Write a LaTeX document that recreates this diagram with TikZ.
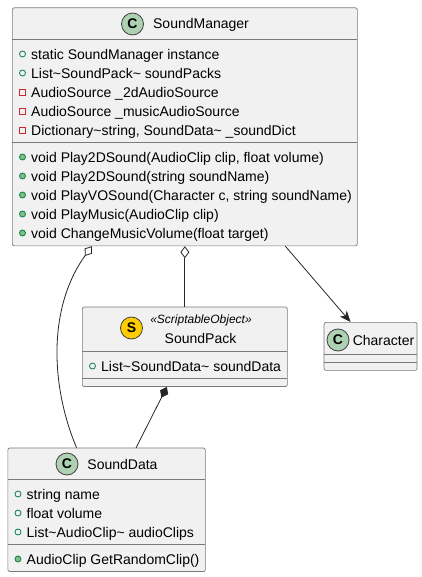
\documentclass[tikz,border=0pt]{standalone}
\usepackage{fontspec}
\setmainfont{Liberation Sans}
\usetikzlibrary{arrows.meta}

\definecolor{boxfill}{HTML}{F1F1F1}
\definecolor{boxline}{HTML}{7A7A7A}
\definecolor{classgreen}{HTML}{ADD1B2}
\definecolor{stereogold}{HTML}{FFCC00}
\definecolor{publine}{HTML}{038048}
\definecolor{pubfill}{HTML}{84BE84}
\definecolor{privline}{HTML}{C82930}

\tikzset{
  classbox/.style={draw=boxline, fill=boxfill, line width=0.7pt, rounded corners=2pt,
    anchor=north west, inner sep=0pt},
  divider/.style={draw=boxline, line width=0.7pt},
  spot/.style={circle, draw=black!75, line width=0.8pt, minimum size=22pt, inner sep=0pt,
    font=\fontsize{14}{16}\selectfont\bfseries},
  title/.style={inner sep=0pt, font=\fontsize{14}{16}\selectfont},
  stereo/.style={inner sep=0pt, font=\fontsize{12}{14}\selectfont\itshape},
  member/.style={inner sep=0pt, anchor=base west, font=\fontsize{14}{16}\selectfont},
  pubattr/.style={circle, draw=publine, line width=0.8pt, minimum size=6pt, inner sep=0pt},
  pubmeth/.style={circle, draw=publine, fill=pubfill, line width=0.8pt, minimum size=6pt, inner sep=0pt},
  privattr/.style={rectangle, draw=privline, line width=0.8pt, minimum size=6pt, inner sep=0pt},
  link/.style={draw=black!85, line width=0.8pt},
  aggr/.style={link, {Diamond[open, length=12pt, width=9pt, fill=white]}-},
  comp/.style={link, {Diamond[length=12pt, width=9pt]}-},
  assoc/.style={link, -{Stealth[length=11pt, width=9pt, inset=3pt]}}
}

% Строка класса: метка, затем текст
\newcommand{\memberrow}[5]{%
  \node[#4] (#1m) at (#2,#3) {};
  \node[member] (#1) at (#2+8.5,#3+5.6) {#5};
}

\begin{document}
\begin{tikzpicture}[x=1pt, y=-1pt]
    \useasboundingbox (0,0) rectangle (422,577);

    % SoundManager
    \node[classbox, minimum width=345pt, minimum height=238pt] (SoundManager) at (12,7.5) {};
    \draw[divider] (12,39) -- (357,39);
    \draw[divider] (12,142) -- (357,142);
    \node[spot, fill=classgreen] (SoundManagerSpot) at (132.5,24) {C};
    \node[title] (SoundManagerName) at (201,25) {SoundManager};
    \memberrow{smA}{22.5}{54}{pubattr}{static SoundManager instance}
    \memberrow{smB}{22.5}{73}{pubattr}{List\textasciitilde SoundPack\textasciitilde{} soundPacks}
    \memberrow{smC}{22.5}{92}{privattr}{AudioSource \_2dAudioSource}
    \memberrow{smD}{22.5}{111}{privattr}{AudioSource \_musicAudioSource}
    \memberrow{smE}{22.5}{130}{privattr}{Dictionary\textasciitilde string, SoundData\textasciitilde{} \_soundDict}
    \memberrow{smF}{22.5}{157}{pubmeth}{void Play2DSound(AudioClip clip, float volume)}
    \memberrow{smG}{22.5}{176}{pubmeth}{void Play2DSound(string soundName)}
    \memberrow{smH}{22.5}{195}{pubmeth}{void PlayVOSound(Character c, string soundName)}
    \memberrow{smI}{22.5}{214}{pubmeth}{void PlayMusic(AudioClip clip)}
    \memberrow{smJ}{22.5}{233}{pubmeth}{void ChangeMusicVolume(float target)}

    % SoundPack
    \node[classbox, minimum width=205pt, minimum height=79.5pt] (SoundPack) at (82,306.7) {};
    \draw[divider] (82,351) -- (287,351);
    \draw[divider] (82,378) -- (287,378);
    \node[spot, fill=stereogold] (SoundPackSpot) at (131.5,328) {S};
    \node[stereo] (SoundPackStereo) at (201,320.5) {«ScriptableObject»};
    \node[title] (SoundPackName) at (200.5,338) {SoundPack};
    \memberrow{spA}{92.5}{366}{pubattr}{List\textasciitilde SoundData\textasciitilde{} soundData}

    % Character
    \node[classbox, minimum width=93pt, minimum height=48pt] (Character) at (323.7,322) {};
    \draw[divider] (323.7,354) -- (416.7,354);
    \draw[divider] (323.7,362) -- (416.7,362);
    \node[spot, fill=classgreen] (CharacterSpot) at (338,340) {C};
    \node[title] (CharacterName) at (383.5,340) {Character};

    % SoundData
    \node[classbox, minimum width=197.5pt, minimum height=123.5pt] (SoundData) at (7.5,447.7) {};
    \draw[divider] (7.5,479) -- (205,479);
    \draw[divider] (7.5,544) -- (205,544);
    \node[spot, fill=classgreen] (SoundDataSpot) at (67,464) {C};
    \node[title] (SoundDataName) at (122.5,464) {SoundData};
    \memberrow{sdA}{18}{494}{pubattr}{string name}
    \memberrow{sdB}{18}{513}{pubattr}{float volume}
    \memberrow{sdC}{18}{532}{pubattr}{List\textasciitilde AudioClip\textasciitilde{} audioClips}
    \memberrow{sdD}{18}{559}{pubmeth}{AudioClip GetRandomClip()}

    % Связи
    \draw[aggr] ([xshift=-93pt]SoundManager.south) .. controls (46,310) and (52,390) .. ([xshift=-30pt]SoundData.north);
    \draw[aggr] (SoundManager.south) -- (SoundPack.north -| SoundManager.south);
    \draw[assoc] ([xshift=100.5pt]SoundManager.south) -- ([xshift=-20pt]Character.north);
    \draw[comp] ([xshift=-18pt]SoundPack.south) -- ([xshift=29.5pt]SoundData.north);

\end{tikzpicture}
\end{document}
